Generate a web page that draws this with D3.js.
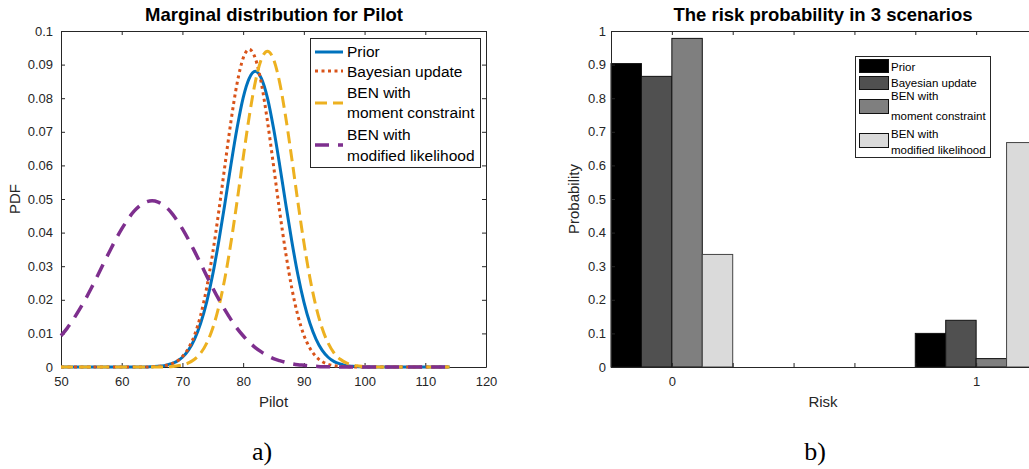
<!DOCTYPE html>
<html>
<head>
<meta charset="utf-8">
<script src="https://cdn.jsdelivr.net/npm/d3@7"></script>
<style>
  body { margin: 0; background: #fff; }
  svg { display: block; font-family: "Liberation Sans", Arial, Helvetica, sans-serif; }
  .axis path, .axis line { stroke: #262626; }
  .axis text { fill: #262626; font-size: 13px; font-family: "Liberation Sans", Arial, sans-serif; }
</style>
</head>
<body>
<svg id="chart" width="1029" height="469"></svg>
<script>
// ---- panel a) marginal pdf of Pilot ----
const pilotX = [
  50, 51, 52, 53, 54, 55, 56, 57, 58, 59, 60, 61, 62,
  63, 64, 65, 66, 67, 68, 69, 70, 71, 72, 73, 74, 75,
  76, 77, 78, 79, 80, 81, 82, 83, 84, 85, 86, 87, 88,
  89, 90, 91, 92, 93, 94, 95, 96, 97, 98, 99, 100, 101,
  102, 103, 104, 105, 106, 107, 108, 109, 110, 111, 112, 113, 114
];
const priorPdf = [
  0, 0, 0, 0, 0, 0, 0, 0, 0, 0, 0, 0, 0,
  0, 0, 0.0001, 0.0002, 0.0004, 0.0009, 0.0016, 0.0029, 0.0050, 0.0083, 0.0130, 0.0194, 0.0276,
  0.0376, 0.0487, 0.0603, 0.0711, 0.0801, 0.0859, 0.0880, 0.0859, 0.0801, 0.0711, 0.0603, 0.0487, 0.0376,
  0.0276, 0.0194, 0.0130, 0.0083, 0.0050, 0.0029, 0.0016, 0.0009, 0.0004, 0.0002, 0.0001, 0, 0,
  0, 0, 0, 0, 0, 0, 0, 0, 0, 0, 0, 0, 0
];
const bayesPdf = [
  0, 0, 0, 0, 0, 0, 0, 0, 0, 0, 0, 0, 0,
  0, 0, 0.0001, 0.0002, 0.0004, 0.0008, 0.0016, 0.0031, 0.0056, 0.0095, 0.0154, 0.0236, 0.0341,
  0.0465, 0.0600, 0.0732, 0.0844, 0.0919, 0.0945, 0.0919, 0.0844, 0.0732, 0.0600, 0.0465, 0.0341, 0.0236,
  0.0154, 0.0095, 0.0056, 0.0031, 0.0016, 0.0008, 0.0004, 0.0002, 0.0001, 0, 0, 0, 0,
  0, 0, 0, 0, 0, 0, 0, 0, 0, 0, 0, 0, 0
];
const momentPdf = [
  0, 0, 0, 0, 0, 0, 0, 0, 0, 0, 0, 0, 0,
  0, 0, 0, 0, 0, 0.0001, 0.0003, 0.0006, 0.0012, 0.0023, 0.0041, 0.0071, 0.0116,
  0.0180, 0.0265, 0.0371, 0.0493, 0.0622, 0.0745, 0.0848, 0.0916, 0.0940, 0.0916, 0.0848, 0.0745, 0.0622,
  0.0493, 0.0371, 0.0265, 0.0180, 0.0116, 0.0071, 0.0041, 0.0023, 0.0012, 0.0006, 0.0003, 0.0001, 0,
  0, 0, 0, 0, 0, 0, 0, 0, 0, 0, 0, 0, 0
];
const modifiedPdf = [
  0.0093, 0.0115, 0.0141, 0.0170, 0.0201, 0.0235, 0.0271, 0.0308, 0.0344, 0.0379, 0.0411, 0.0439, 0.0463,
  0.0480, 0.0491, 0.0495, 0.0491, 0.0480, 0.0463, 0.0439, 0.0411, 0.0379, 0.0344, 0.0308, 0.0271, 0.0235,
  0.0201, 0.0170, 0.0141, 0.0115, 0.0093, 0.0074, 0.0058, 0.0045, 0.0034, 0.0025, 0.0019, 0.0014, 0.0010,
  0.0007, 0.0005, 0.0003, 0.0002, 0.0001, 0.0001, 0, 0, 0, 0, 0, 0, 0,
  0, 0, 0, 0, 0, 0, 0, 0, 0, 0, 0, 0, 0
];

// ---- panel b) risk probability ----
const riskLevels = [0, 1];
const seriesNames = ["Prior", "Bayesian update", "BEN with moment constraint", "BEN with modified likelihood"];
const riskPrior = [0.903, 0.100];
const riskBayes = [0.865, 0.139];
const riskMoment = [0.978, 0.025];
const riskModified = [0.335, 0.668];

const svg = d3.select("#chart");

// ================= panel a =================
const A = { x0: 61, x1: 486, y0: 31, y1: 367 };
const xA = d3.scaleLinear().domain([50, 120]).range([A.x0, A.x1]);
const yA = d3.scaleLinear().domain([0, 0.1]).range([A.y1, A.y0]);
const fmtA = v => v === 0 ? "0" : d3.format(".2~f")(v);

const gA = svg.append("g");
gA.append("g").attr("class", "axis")
  .attr("transform", `translate(0,${A.y1})`)
  .call(d3.axisBottom(xA).ticks(7).tickSize(-4).tickSizeOuter(0).tickPadding(10));
gA.append("g").attr("class", "axis")
  .attr("transform", `translate(0,${A.y0})`)
  .call(d3.axisTop(xA).ticks(7).tickSize(-4).tickSizeOuter(0).tickFormat(""));
gA.append("g").attr("class", "axis")
  .attr("transform", `translate(${A.x0},0)`)
  .call(d3.axisLeft(yA).ticks(10).tickSize(-4).tickSizeOuter(0).tickPadding(8).tickFormat(fmtA));
gA.append("g").attr("class", "axis")
  .attr("transform", `translate(${A.x1},0)`)
  .call(d3.axisRight(yA).ticks(10).tickSize(-4).tickSizeOuter(0).tickFormat(""));

const linesA = [
  { name: "Prior", ys: priorPdf, color: "#0072BD", dash: null, w: 3 },
  { name: "Bayesian update", ys: bayesPdf, color: "#D95319", dash: "3,3.5", w: 3 },
  { name: "BEN with|moment constraint", ys: momentPdf, color: "#EDB120", dash: "12,6", w: 3 },
  { name: "BEN with|modified likelihood", ys: modifiedPdf, color: "#7E2F8E", dash: "14,9", w: 3.5 }
];
const line = d3.line()
  .x((d, i) => xA(pilotX[i]))
  .y(d => yA(d))
  .curve(d3.curveMonotoneX);

gA.selectAll("path.pdf")
  .data(linesA)
  .join("path")
  .attr("class", "pdf")
  .attr("fill", "none")
  .attr("stroke", d => d.color)
  .attr("stroke-width", d => d.w)
  .attr("stroke-dasharray", d => d.dash)
  .attr("d", d => line(d.ys));

gA.append("text")
  .attr("x", 274).attr("y", 21)
  .attr("text-anchor", "middle")
  .attr("font-weight", "bold").attr("font-size", 18.5)
  .attr("fill", "#000")
  .text("Marginal distribution for Pilot");
gA.append("text")
  .attr("x", (A.x0 + A.x1) / 2).attr("y", 407)
  .attr("text-anchor", "middle").attr("font-size", 15).attr("fill", "#262626")
  .text("Pilot");
gA.append("text")
  .attr("transform", `translate(20,${(A.y0 + A.y1) / 2}) rotate(-90)`)
  .attr("text-anchor", "middle").attr("font-size", 15).attr("fill", "#262626")
  .text("PDF");

// legend a
const legA = gA.append("g");
legA.append("rect")
  .attr("x", 310.5).attr("y", 38.5).attr("width", 170).attr("height", 129)
  .attr("fill", "#fff").attr("stroke", "#262626");
const legRowsA = [
  { sampleY: 52, lines: [52] },
  { sampleY: 71, lines: [72] },
  { sampleY: 103, lines: [93, 113] },
  { sampleY: 145, lines: [135, 156] }
];
linesA.forEach((s, i) => {
  const r = legRowsA[i];
  legA.append("line")
    .attr("x1", 315).attr("x2", 343).attr("y1", r.sampleY).attr("y2", r.sampleY)
    .attr("stroke", s.color).attr("stroke-width", s.w)
    .attr("stroke-dasharray", s.dash);
  s.name.split("|").forEach((t, j) => {
    legA.append("text")
      .attr("x", 347).attr("y", r.lines[j]).attr("dy", "0.35em")
      .attr("font-size", 15.5).attr("fill", "#000")
      .text(t);
  });
});

svg.append("text")
  .attr("x", 262).attr("y", 460)
  .attr("text-anchor", "middle")
  .attr("font-family", "'Liberation Serif', 'Times New Roman', serif")
  .attr("font-size", 26).attr("fill", "#000")
  .text("a)");

// ================= panel b =================
const B = { x0: 611, x1: 1037, y0: 31, y1: 367 };
const xB = d3.scaleLinear().domain([-0.2, 1.2]).range([B.x0, B.x1]);
const yB = d3.scaleLinear().domain([0, 1]).range([B.y1, B.y0]);
const inner = d3.scaleBand().domain(seriesNames).range([-0.2, 0.2]).padding(0);
const barFill = d3.scaleOrdinal().domain(seriesNames).range(["#000000", "#505050", "#7f7f7f", "#dadada"]);
const riskValues = [riskPrior, riskBayes, riskMoment, riskModified];

const gB = svg.append("g");
const barData = [];
riskLevels.forEach((lv, k) => {
  seriesNames.forEach((nm, s) => barData.push({ level: lv, name: nm, value: riskValues[s][k] }));
});
gB.selectAll("rect.bar")
  .data(barData)
  .join("rect")
  .attr("class", "bar")
  .attr("x", d => xB(d.level + inner(d.name)))
  .attr("width", d => xB(d.level + inner(d.name) + inner.bandwidth()) - xB(d.level + inner(d.name)))
  .attr("y", d => yB(d.value))
  .attr("height", d => yB(0) - yB(d.value))
  .attr("fill", d => barFill(d.name))
  .attr("stroke", d => d.name === seriesNames[3] ? "#444" : "#111")
  .attr("stroke-width", 1);

const xTicksB = [0, 0.2, 0.4, 0.6, 0.8, 1];
gB.append("g").attr("class", "axis")
  .attr("transform", `translate(0,${B.y1})`)
  .call(d3.axisBottom(xB).tickValues(xTicksB).tickSize(-4).tickSizeOuter(0).tickPadding(10)
    .tickFormat(d => riskLevels.includes(d) ? d : ""));
gB.append("g").attr("class", "axis")
  .attr("transform", `translate(0,${B.y0})`)
  .call(d3.axisTop(xB).tickValues(xTicksB).tickSize(-4).tickSizeOuter(0).tickFormat(""));
gB.append("g").attr("class", "axis")
  .attr("transform", `translate(${B.x0},0)`)
  .call(d3.axisLeft(yB).ticks(10).tickSize(-4).tickSizeOuter(0).tickPadding(5)
    .tickFormat(v => v === 0 ? "0" : v === 1 ? "1" : d3.format(".1f")(v)));

gB.append("text")
  .attr("x", 823).attr("y", 21)
  .attr("text-anchor", "middle")
  .attr("font-weight", "bold").attr("font-size", 18.5)
  .attr("fill", "#000")
  .text("The risk probability in 3 scenarios");
gB.append("text")
  .attr("x", 823).attr("y", 407)
  .attr("text-anchor", "middle").attr("font-size", 15).attr("fill", "#262626")
  .text("Risk");
gB.append("text")
  .attr("transform", `translate(579,${(B.y0 + B.y1) / 2}) rotate(-90)`)
  .attr("text-anchor", "middle").attr("font-size", 15).attr("fill", "#262626")
  .text("Probability");

// legend b
const legB = gB.append("g");
legB.append("rect")
  .attr("x", 855.5).attr("y", 56.5).attr("width", 135).attr("height", 101)
  .attr("fill", "#fff").attr("stroke", "#262626");
const legRowsB = [
  { top: 59, h: 13, lines: [66.5] },
  { top: 76, h: 13, lines: [83] },
  { top: 99, h: 14, lines: [96, 116] },
  { top: 133, h: 14, lines: [134, 150] }
];
const legNamesB = ["Prior", "Bayesian update", "BEN with|moment constraint", "BEN with|modified likelihood"];
seriesNames.forEach((nm, i) => {
  const r = legRowsB[i];
  legB.append("rect")
    .attr("x", 859.5).attr("y", r.top + 0.5).attr("width", 29).attr("height", r.h)
    .attr("fill", barFill(nm)).attr("stroke", "#111");
  legNamesB[i].split("|").forEach((t, j) => {
    legB.append("text")
      .attr("x", 891).attr("y", r.lines[j]).attr("dy", "0.35em")
      .attr("font-size", 11.5).attr("fill", "#000")
      .text(t);
  });
});

svg.append("text")
  .attr("x", 815).attr("y", 460)
  .attr("text-anchor", "middle")
  .attr("font-family", "'Liberation Serif', 'Times New Roman', serif")
  .attr("font-size", 26).attr("fill", "#000")
  .text("b)");
</script>
</body>
</html>
